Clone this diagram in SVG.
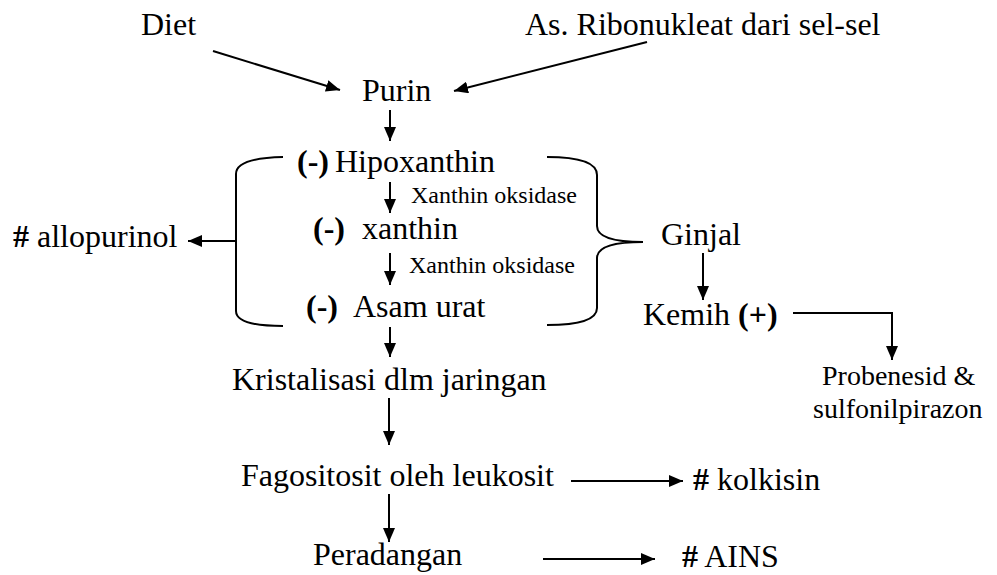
<svg xmlns="http://www.w3.org/2000/svg" width="997" height="575" viewBox="0 0 997 575">
<style>
text{font-family:"Liberation Serif","Times New Roman",serif;font-size:32px;fill:#000}
.s{font-size:24px}
.m{font-size:28px}
.b{font-weight:bold}
.c{fill:none;stroke:#000;stroke-width:2}
</style>
<defs>
<marker id="ah" markerUnits="userSpaceOnUse" markerWidth="14" markerHeight="12" refX="14" refY="6" viewBox="0 0 14 12" orient="auto">
<path d="M0,0 L14,6 L0,12 z" fill="#000"/>
</marker>
</defs>
<rect width="997" height="575" fill="#fff"/>
<g id="connectors">
<line class="c" x1="213" y1="51" x2="340" y2="90" marker-end="url(#ah)"/>
<line class="c" x1="647" y1="42" x2="454" y2="91" marker-end="url(#ah)"/>
<line class="c" x1="390" y1="110" x2="390" y2="141" marker-end="url(#ah)"/>
<line class="c" x1="390" y1="182" x2="390" y2="213" marker-end="url(#ah)"/>
<line class="c" x1="390" y1="253" x2="390" y2="285" marker-end="url(#ah)"/>
<line class="c" x1="390" y1="327" x2="390" y2="357" marker-end="url(#ah)"/>
<line class="c" x1="389" y1="398" x2="389" y2="445" marker-end="url(#ah)"/>
<line class="c" x1="389" y1="494" x2="389" y2="542" marker-end="url(#ah)"/>
<line class="c" x1="571" y1="481" x2="683" y2="481" marker-end="url(#ah)"/>
<line class="c" x1="543" y1="559" x2="655" y2="559" marker-end="url(#ah)"/>
<line class="c" x1="236" y1="241" x2="188" y2="241" marker-end="url(#ah)"/>
<line class="c" x1="703" y1="253" x2="703" y2="300" marker-end="url(#ah)"/>
<polyline class="c" points="793,313 892,313 892,360" marker-end="url(#ah)"/>
<path class="c" d="M283,157 Q236,158 236,174 L236,311 Q236,326 283,326"/>
<path class="c" d="M547,157 Q597,157 597,175 L597,226 Q597,242 643,242 Q597,242 597,258 L597,308 Q597,325 547,325"/>
</g>
<g id="diet"><text x="141" y="35">Diet</text></g>
<g id="ribonukleat"><text x="525" y="35">As. Ribonukleat dari sel-sel</text></g>
<g id="purin"><text x="362" y="101">Purin</text></g>
<g id="hipoxanthin"><text x="297" y="172"><tspan class="b">(-)</tspan><tspan x="335">Hipoxanthin</tspan></text></g>
<g id="xo1"><text class="s" x="411" y="203">Xanthin oksidase</text></g>
<g id="xanthin"><text x="313" y="239"><tspan class="b">(-)</tspan><tspan x="362">xanthin</tspan></text></g>
<g id="xo2"><text class="s" x="409" y="273">Xanthin oksidase</text></g>
<g id="asamurat"><text x="306" y="317"><tspan class="b">(-)</tspan><tspan x="353">Asam urat</tspan></text></g>
<g id="allopurinol"><text x="13" y="247"><tspan class="b">#</tspan> allopurinol</text></g>
<g id="ginjal"><text x="661" y="245">Ginjal</text></g>
<g id="kemih"><text x="643" y="325">Kemih <tspan class="b">(+)</tspan></text></g>
<g id="probenesid"><text class="m" x="822" y="385">Probenesid &amp;</text><text class="m" x="813" y="418">sulfonilpirazon</text></g>
<g id="kristalisasi"><text x="232" y="390">Kristalisasi dlm jaringan</text></g>
<g id="fagositosit"><text x="241" y="486">Fagositosit oleh leukosit</text></g>
<g id="kolkisin"><text x="693" y="490"><tspan class="b">#</tspan> kolkisin</text></g>
<g id="peradangan"><text x="313" y="565">Peradangan</text></g>
<g id="ains"><text x="682" y="567"><tspan class="b">#</tspan> AINS</text></g>
</svg>
